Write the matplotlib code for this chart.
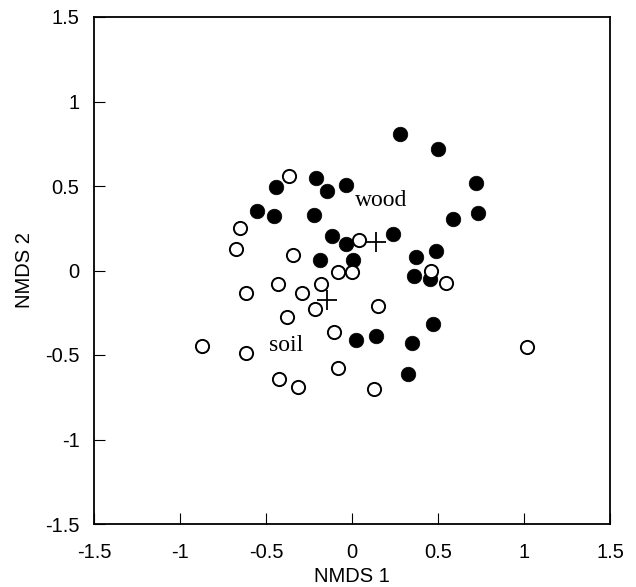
import matplotlib
matplotlib.use("Agg")
import matplotlib.pyplot as plt
from matplotlib.ticker import FuncFormatter

plt.rcParams['axes.unicode_minus'] = False
plt.rcParams['font.family'] = ['Liberation Sans', 'DejaVu Sans']

# soil samples (open circles)
soil_x = [-0.364, -0.649, -0.673, -0.343, 0.043, -0.081, -0.002, -0.432, -0.616, -0.289,
          -0.180, -0.215, -0.380, 0.150, -0.105, -0.872, -0.618, -0.081, -0.423, -0.312,
          0.126, 0.459, 0.545, 1.015]
soil_y = [0.561, 0.250, 0.127, 0.094, 0.180, -0.007, -0.007, -0.082, -0.135, -0.135,
          -0.082, -0.230, -0.277, -0.210, -0.364, -0.447, -0.488, -0.575, -0.644, -0.688,
          -0.699, -0.001, -0.072, -0.455]

# wood samples (filled circles)
wood_x = [0.281, -0.442, -0.211, -0.147, -0.037, -0.550, -0.453, -0.223, -0.115, -0.037,
          0.236, -0.188, 0.008, 0.500, 0.721, 0.731, 0.589, 0.488, 0.370, 0.359,
          0.455, 0.469, 0.138, 0.021, 0.347, 0.326]
wood_y = [0.808, 0.496, 0.549, 0.472, 0.508, 0.352, 0.324, 0.326, 0.206, 0.159,
          0.214, 0.060, 0.062, 0.717, 0.516, 0.338, 0.307, 0.115, 0.082, -0.031,
          -0.052, -0.318, -0.388, -0.411, -0.431, -0.612]

# centroids
cent_x = [0.138, -0.147]
cent_y = [0.167, -0.176]

# group labels
label_text = ["wood", "soil"]
label_x = [0.17, -0.384]
label_y = [0.417, -0.441]

ticks = [-1.5, -1, -0.5, 0, 0.5, 1, 1.5]

fig = plt.figure(figsize=(6.36, 5.87), dpi=100)
ax = fig.add_axes([94/636, 1-524/587, 516/636, 507/587])

ax.plot(wood_x, wood_y, 'o', ms=10.5, mfc='black', mec='black', mew=0.5, ls='none')
ax.plot(soil_x, soil_y, 'o', ms=9.5, mfc='white', mec='black', mew=1.4, ls='none')
ax.plot(cent_x, cent_y, '+', ms=15, mec='black', mew=1.3, ls='none')

for t, x, y in zip(label_text, label_x, label_y):
    ax.text(x, y, t, ha='center', va='center', fontsize=17,
            family=['Liberation Serif', 'DejaVu Serif'])

ax.set_xlim(-1.5, 1.5)
ax.set_ylim(-1.5, 1.5)
ax.set_xticks(ticks)
ax.set_yticks(ticks)
fmt = FuncFormatter(lambda v, p: ('%g' % v))
ax.xaxis.set_major_formatter(fmt)
ax.yaxis.set_major_formatter(fmt)
ax.tick_params(direction='in', length=8, width=0.8, labelsize=14.5,
               top=False, right=False)
ax.tick_params(axis='x', pad=13.5)
ax.tick_params(axis='y', pad=10.5)
for s in ax.spines.values():
    s.set_linewidth(1.3)

ax.set_xlabel('NMDS 1', fontsize=14.5, labelpad=4)
ax.set_ylabel('NMDS 2', fontsize=14.5, labelpad=8)

fig.savefig('out.png', dpi=100)
